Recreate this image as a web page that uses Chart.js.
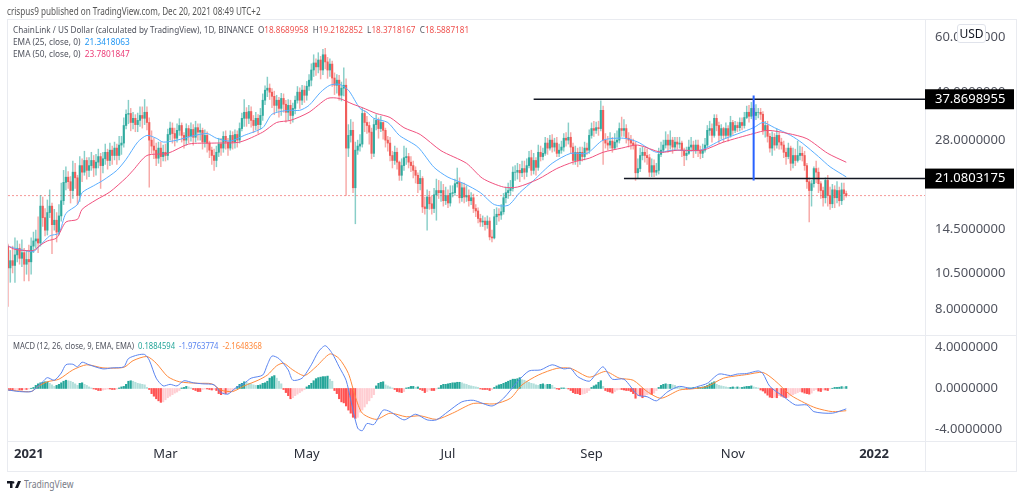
<!DOCTYPE html>
<html>
<head>
<meta charset="utf-8">
<title>ChainLink / US Dollar</title>
<script src="https://cdn.jsdelivr.net/npm/chart.js@4"></script>
<style>
  html, body { margin: 0; padding: 0; background: #fff; }
  body { width: 1024px; height: 496px; position: relative; overflow: hidden; font-family: "Noto Sans", sans-serif; color: #50535e; }
  canvas { position: absolute; left: 0; }
  #priceChart { top: 0; }
  #macdChart { top: 315px; }
  .txt { position: absolute; white-space: nowrap; font-size: 9.8px; line-height: 12px; transform-origin: left center; transform: scaleX(0.832); }
  .rule { position: absolute; background: #e9ebf0; }
  #usd { position: absolute; left: 957px; top: 24px; width: 27px; height: 17px; border: 1px solid #e0e3eb; border-radius: 3px; background: #fff; font-size: 12px; line-height: 17px; text-align: center; color: #131722; }
</style>
</head>
<body>
<div class="rule" style="left:7px;top:19px;width:1010px;height:1px"></div>
<div class="rule" style="left:7px;top:19px;width:1px;height:452px"></div>
<div class="rule" style="left:1016px;top:19px;width:1px;height:452px"></div>
<div class="rule" style="left:7px;top:471px;width:1010px;height:1px"></div>
<div class="rule" style="left:7px;top:335px;width:1010px;height:1px"></div>
<div class="rule" style="left:7px;top:441px;width:1010px;height:1px"></div>
<div class="rule" style="left:925px;top:19px;width:1px;height:452px"></div>
<canvas id="priceChart" width="1024" height="355"></canvas>
<canvas id="macdChart" width="1024" height="156"></canvas>
<div class="txt" style="left:7px;top:5px;font-size:10px;color:#555;transform:scaleX(0.813)">crispus9 published on TradingView.com, Dec 20, 2021 08:49 UTC+2</div>
<div class="txt" style="left:13px;top:24px">ChainLink / US Dollar (calculated by TradingView), 1D, BINANCE&nbsp;&nbsp;O<span style="color:#ef5350">18.8689958</span>&nbsp;&nbsp;H<span style="color:#ef5350">19.2182852</span>&nbsp;&nbsp;L<span style="color:#ef5350">18.3718167</span>&nbsp;&nbsp;C<span style="color:#ef5350">18.5887181</span></div>
<div class="txt" style="left:13px;top:36px;transform:scaleX(0.847)">EMA (25, close, 0)&nbsp;&nbsp;<span style="color:#2196f3">21.3418063</span></div>
<div class="txt" style="left:13px;top:48px;transform:scaleX(0.847)">EMA (50, close, 0)&nbsp;&nbsp;<span style="color:#ec407a">23.7801847</span></div>
<div class="txt" style="left:13px;top:340px;transform:scaleX(0.78)">MACD (12, 26, close, 9, EMA, EMA)&nbsp;&nbsp;<span style="color:#26a69a">0.1884594</span>&nbsp;&nbsp;<span style="color:#5b85f0">-1.9763774</span>&nbsp;&nbsp;<span style="color:#ff8a3d">-2.1648368</span></div>
<div id="usd">USD</div>
<svg style="position:absolute;left:7px;top:481px" width="14" height="7" viewBox="0 0 14 7"><path fill="#131722" d="M0 0h5.5v7H3V2.4H0zM6.2 0.2a1.2 1.2 0 1 1 0 2.4a1.2 1.2 0 0 1 0-2.4zM11 0h3l-3 7H8z"/></svg>
<div class="txt" style="left:24px;top:478px;font-size:11px;color:#787b86;transform:scaleX(0.78)">TradingView</div>
<script>
// Daily candles (USD), first candle 2020-12-23
const opens = [
  12.8,10.9,11.5,11.1,12.0,12.6,11.7,12.2,11.2,11.6,
  11.4,12.8,13.3,13.5,13.1,17.2,15.8,14.4,16.4,17.2,
  15.0,15.5,14.2,16.0,17.9,20.5,21.3,20.6,19.3,22.1,
  21.2,18.6,23.2,22.1,24.1,22.4,23.2,24.1,22.8,23.8,
  24.8,23.2,24.4,25.6,24.1,26.0,25.0,26.4,25.0,27.0,
  27.4,31.2,33.9,34.1,31.9,32.9,31.4,32.4,33.6,32.9,
  34.4,31.9,28.0,26.8,26.0,24.5,26.4,24.8,25.6,25.0,
  29.2,30.6,29.4,28.4,30.1,31.2,29.0,28.0,30.5,28.8,
  30.3,28.6,30.7,29.7,30.1,27.6,29.0,27.4,26.0,25.0,
  24.1,25.6,27.2,26.4,28.8,27.6,26.4,29.0,27.6,29.2,
  28.0,30.5,32.9,34.4,32.9,34.6,32.4,31.2,32.9,31.4,
  33.6,37.6,40.5,41.1,39.9,38.7,36.2,37.6,35.4,38.1,
  36.5,34.4,36.2,33.6,35.4,37.6,39.9,37.6,40.5,39.0,
  41.7,43.6,47.0,49.5,48.1,50.6,47.0,52.6,49.9,47.0,
  49.1,44.3,42.0,43.6,39.0,41.1,42.0,26.4,29.0,30.1,
  19.7,26.0,26.8,27.2,34.1,31.9,31.2,29.7,25.4,31.4,
  32.4,30.5,31.9,30.1,28.0,27.4,25.0,24.1,25.6,23.8,
  21.6,23.2,24.6,24.8,23.8,23.2,22.4,21.6,20.3,21.1,
  17.1,16.9,18.4,17.5,16.9,18.7,19.3,19.0,19.3,17.9,
  18.6,17.6,18.9,19.0,20.3,20.5,18.3,19.7,18.4,18.6,
  17.9,18.3,16.9,16.6,15.7,15.3,15.4,15.0,15.4,13.7,
  13.6,15.9,16.2,16.1,16.5,18.3,19.0,19.3,19.6,22.1,
  22.1,22.4,22.0,22.7,22.1,23.2,24.6,22.4,24.1,22.9,
  25.6,24.8,25.4,27.4,26.4,28.0,26.6,27.4,25.4,26.0,
  26.6,28.4,28.0,28.6,26.6,24.1,25.6,24.1,25.6,24.8,
  26.4,26.0,29.0,30.5,30.1,30.7,30.5,34.9,28.0,27.4,
  27.0,27.8,26.4,27.6,28.0,30.5,30.1,30.5,28.4,28.0,
  27.4,27.0,22.0,22.7,25.0,25.6,25.0,24.6,22.1,23.2,
  22.1,22.4,25.2,26.0,27.0,28.0,27.0,28.0,26.6,27.6,
  27.2,27.4,26.0,25.0,25.4,26.6,27.0,26.0,27.0,26.0,
  25.4,26.0,27.0,30.1,30.5,29.0,32.9,31.2,29.0,30.5,
  29.0,30.5,29.0,31.9,30.1,31.2,30.7,31.9,31.2,33.1,
  34.4,33.4,35.4,33.6,34.4,34.4,33.9,30.1,31.2,28.8,
  26.4,28.6,27.0,29.0,27.6,27.0,25.6,24.8,26.4,23.6,
  25.0,24.1,25.0,25.4,25.0,23.2,20.6,19.3,20.3,22.7,
  22.1,20.3,19.3,18.3,20.8,18.6,17.5,19.4,18.3,19.3,
  17.9,19.4,18.87
];
const closes = [
  10.9,11.5,11.1,12.0,12.6,11.7,12.2,11.2,11.6,11.4,
  12.8,13.3,13.5,13.1,17.2,15.8,14.4,16.4,17.2,15.0,
  15.5,14.2,16.0,17.9,20.5,21.3,20.6,19.3,22.1,21.2,
  18.6,23.2,22.1,24.1,22.4,23.2,24.1,22.8,23.8,24.8,
  23.2,24.4,25.6,24.1,26.0,25.0,26.4,25.0,27.0,27.4,
  31.2,33.9,34.1,31.9,32.9,31.4,32.4,33.6,32.9,34.4,
  31.9,28.0,26.8,26.0,24.5,26.4,24.8,25.6,25.0,29.2,
  30.6,29.4,28.4,30.1,31.2,29.0,28.0,30.5,28.8,30.3,
  28.6,30.7,29.7,30.1,27.6,29.0,27.4,26.0,25.0,24.1,
  25.6,27.2,26.4,28.8,27.6,26.4,29.0,27.6,29.2,28.0,
  30.5,32.9,34.4,32.9,34.6,32.4,31.2,32.9,31.4,33.6,
  37.6,40.5,41.1,39.9,38.7,36.2,37.6,35.4,38.1,36.5,
  34.4,36.2,33.6,35.4,37.6,39.9,37.6,40.5,39.0,41.7,
  43.6,47.0,49.5,48.1,50.6,47.0,52.6,49.9,47.0,49.1,
  44.3,42.0,43.6,39.0,41.1,42.0,26.4,29.0,30.1,19.7,
  26.0,26.8,27.2,34.1,31.9,31.2,29.7,25.4,31.4,32.4,
  30.5,31.9,30.1,28.0,27.4,25.0,24.1,25.6,23.8,21.6,
  23.2,24.6,24.8,23.8,23.2,22.4,21.6,20.3,21.1,17.1,
  16.9,18.4,17.5,16.9,18.7,19.3,19.0,19.3,17.9,18.6,
  17.6,18.9,19.0,20.3,20.5,18.3,19.7,18.4,18.6,17.9,
  18.3,16.9,16.6,15.7,15.3,15.4,15.0,15.4,13.7,13.6,
  15.9,16.2,16.1,16.5,18.3,19.0,19.3,19.6,22.1,22.1,
  22.4,22.0,22.7,22.1,23.2,24.6,22.4,24.1,22.9,25.6,
  24.8,25.4,27.4,26.4,28.0,26.6,27.4,25.4,26.0,26.6,
  28.4,28.0,28.6,26.6,24.1,25.6,24.1,25.6,24.8,26.4,
  26.0,29.0,30.5,30.1,30.7,30.5,34.9,28.0,27.4,27.0,
  27.8,26.4,27.6,28.0,30.5,30.1,30.5,28.4,28.0,27.4,
  27.0,22.0,22.7,25.0,25.6,25.0,24.6,22.1,23.2,22.1,
  22.4,25.2,26.0,27.0,28.0,27.0,28.0,26.6,27.6,27.2,
  27.4,26.0,25.0,25.4,26.6,27.0,26.0,27.0,26.0,25.4,
  26.0,27.0,30.1,30.5,29.0,32.9,31.2,29.0,30.5,29.0,
  30.5,29.0,31.9,30.1,31.2,30.7,31.9,31.2,33.1,34.4,
  33.4,35.4,33.6,34.4,34.4,33.9,30.1,31.2,28.8,26.4,
  28.6,27.0,29.0,27.6,27.0,25.6,24.8,26.4,23.6,25.0,
  24.1,25.0,25.4,25.0,23.2,20.6,19.3,20.3,22.7,22.1,
  20.3,19.3,18.3,20.8,18.6,17.5,19.4,18.3,19.3,17.9,
  19.4,18.87,18.59
];
const highs = [
  13.0,12.4,12.8,13.6,13.3,13.0,13.4,12.6,12.4,12.9,
  13.6,14.2,14.4,15.9,18.6,18.4,16.9,18.0,19.4,17.6,
  16.8,16.4,17.4,20.4,22.4,23.0,22.2,21.4,24.0,23.6,
  21.6,24.8,24.4,25.8,24.6,24.6,25.6,25.0,25.2,26.2,
  25.4,25.6,27.2,26.2,27.4,26.8,27.6,27.2,28.8,28.8,
  33.0,35.0,37.6,35.4,34.4,33.8,34.2,35.8,35.8,37.8,
  35.8,33.0,30.0,28.4,27.4,27.6,27.6,27.0,27.2,30.4,
  32.0,31.8,30.6,31.6,32.8,31.8,29.6,31.6,31.2,31.8,
  31.4,32.2,31.6,31.6,30.6,30.2,29.8,27.8,26.6,26.2,
  26.8,28.4,28.4,29.8,30.0,28.4,30.0,29.8,30.2,30.0,
  31.8,34.2,37.8,35.6,36.2,35.8,33.6,34.4,33.8,35.4,
  39.4,41.8,44.6,42.4,41.0,40.2,39.0,38.4,39.6,39.4,
  37.6,37.8,37.6,36.8,38.8,41.6,41.2,42.0,41.8,43.2,
  45.4,49.2,52.6,51.0,53.4,52.0,54.8,55.2,51.6,51.0,
  50.2,46.0,45.4,45.2,43.0,47.8,44.0,31.4,32.6,32.0,
  27.6,28.0,29.2,35.6,34.8,33.4,32.0,30.6,32.8,33.8,
  33.0,33.4,32.0,30.6,28.8,28.6,25.8,26.8,26.4,24.0,
  24.4,26.8,26.4,25.4,24.8,24.0,23.0,22.0,22.4,21.4,
  18.4,19.4,19.2,18.6,19.6,21.0,20.8,20.6,20.2,19.8,
  19.4,20.0,20.0,21.0,22.8,21.2,20.4,20.4,20.0,19.4,
  19.0,18.8,17.4,17.0,16.2,16.0,15.8,16.0,15.8,14.4,
  16.8,17.0,16.9,17.4,18.9,19.8,20.4,20.8,23.0,23.2,
  23.6,23.4,24.0,24.0,24.4,25.8,26.0,25.4,24.6,27.0,
  26.8,26.4,28.6,28.4,29.0,29.2,28.4,28.6,27.2,27.8,
  29.4,29.6,31.8,29.6,27.4,26.8,26.4,26.6,26.6,27.6,
  27.4,30.2,31.8,32.2,32.0,32.2,37.4,36.0,29.4,28.8,
  29.6,28.6,29.4,30.0,31.8,33.2,32.6,31.4,29.6,29.0,
  28.2,27.6,24.4,26.4,26.6,26.4,26.2,25.2,24.4,24.2,
  23.6,26.4,27.6,28.0,29.8,29.2,30.0,28.6,28.6,28.6,
  28.6,27.8,26.4,26.6,28.0,28.6,27.8,28.0,28.0,26.8,
  27.2,28.4,31.2,32.2,31.6,33.8,33.8,32.0,31.4,30.8,
  31.8,31.2,33.4,32.4,32.2,32.0,33.0,33.0,34.4,36.0,
  36.2,37.0,36.2,36.4,35.4,35.4,34.6,32.2,32.2,29.4,
  29.8,29.4,30.4,29.6,28.4,27.8,26.4,27.4,26.8,26.4,
  26.2,27.8,26.8,26.6,25.8,23.6,21.2,20.8,23.0,24.0,
  22.8,20.6,19.8,21.2,21.6,19.8,20.2,20.0,20.6,19.8,
  20.4,20.4,19.22
];
const lows = [
  8.2,9.8,10.5,9.8,11.4,11.2,11.0,9.9,10.4,9.9,
  10.4,12.2,12.6,12.2,12.8,14.8,13.8,13.9,15.8,12.1,
  14.4,13.2,13.9,15.4,17.4,19.4,19.6,17.6,18.2,19.6,
  17.4,17.8,20.6,21.6,21.0,21.4,22.4,21.4,21.6,22.8,
  19.6,22.0,23.4,22.6,23.2,23.4,24.2,23.4,24.2,25.2,
  26.6,30.4,31.6,30.0,30.4,29.8,29.8,31.0,30.6,31.4,
  30.2,19.8,25.4,24.4,23.2,23.6,23.0,24.0,24.0,24.2,
  28.0,27.4,26.8,27.6,29.0,27.6,26.4,27.0,27.4,27.8,
  27.0,27.6,28.0,28.0,26.2,26.6,25.6,24.6,23.4,22.4,
  23.0,24.8,25.0,25.6,26.2,25.0,26.0,26.2,26.4,26.6,
  27.4,30.0,31.0,31.0,31.6,30.8,29.6,30.2,29.4,30.4,
  32.4,36.4,38.6,37.8,35.6,33.8,34.6,33.2,33.6,34.4,
  32.0,32.4,31.6,32.0,34.0,36.8,35.4,36.4,37.0,37.6,
  40.4,41.8,44.8,45.2,46.0,44.0,45.4,47.4,44.2,44.8,
  41.6,39.2,39.6,37.6,37.4,38.8,18.6,24.8,27.6,19.0,
  15.1,25.2,25.8,26.6,29.8,29.4,27.2,24.4,24.8,30.2,
  28.4,29.8,28.2,26.6,25.8,24.0,22.8,23.4,22.6,20.8,
  20.8,22.4,23.4,22.8,22.2,21.2,20.4,19.0,19.4,16.4,
  16.2,14.4,16.8,16.2,16.4,15.5,18.2,17.8,17.2,17.4,
  17.0,17.2,18.4,18.6,19.8,17.6,17.8,17.6,17.8,17.2,
  17.4,16.4,15.9,15.2,14.8,14.8,14.4,14.6,13.4,13.2,
  13.5,15.0,15.4,15.6,16.2,17.6,18.2,18.6,19.2,20.8,
  21.0,20.6,21.4,21.0,21.4,22.8,21.6,21.8,21.6,22.4,
  24.0,24.2,25.0,25.2,26.0,25.6,25.8,24.8,24.8,25.4,
  25.8,26.8,27.2,25.4,23.4,23.4,23.0,23.4,24.0,24.2,
  25.2,25.4,28.4,28.8,29.4,29.0,30.0,23.4,26.4,26.0,
  26.4,25.6,26.2,26.6,27.4,28.8,28.8,27.4,26.6,26.2,
  26.2,20.8,21.2,22.2,24.2,23.8,23.4,21.4,21.4,21.4,
  21.6,21.8,24.8,25.6,26.4,25.6,26.2,25.4,26.0,26.2,
  26.4,24.8,23.2,24.2,25.2,25.8,24.6,25.4,24.8,24.4,
  24.6,25.6,26.6,29.0,27.6,28.6,30.0,27.4,28.2,27.6,
  28.4,27.8,28.6,29.2,29.6,29.8,30.0,30.2,30.6,32.8,
  32.0,32.8,32.4,32.6,33.0,32.6,29.2,28.6,27.6,25.6,
  25.0,26.0,26.4,26.2,26.2,24.6,23.4,24.4,22.4,22.8,
  23.2,23.8,24.2,24.0,22.4,19.6,15.3,17.2,19.8,20.4,
  19.0,18.2,17.2,17.6,17.2,16.8,17.0,17.0,17.6,17.2,
  17.4,18.0,18.37
];

// EMA lines, read at these day numbers
const ema25Days = [0,3,7,11,14,18,22,25,30,32,37,41,47,51,56,60,64,67,73,79,86,90,96,102,110,114,121,126,130,135,139,143,147,152,155,158,164,169,177,184,190,197,204,210,216,221,227,235,243,250,257,266,272,280,287,299,308,322,326,331,338,343,350,355,362];
const ema25 = [12.8,12.6,12.4,12.3,12.9,13.8,14.1,16.3,17.4,19.0,20.0,20.8,22.4,24.3,27.6,29.0,28.4,27.6,28.0,28.8,29.4,28.4,27.8,29.0,30.7,33.9,34.9,34.9,36.2,39.9,42.0,42.3,40.5,35.4,34.4,32.9,31.9,29.0,26.6,22.9,21.3,20.3,19.0,17.4,17.3,19.0,20.8,23.6,25.4,25.4,28.0,28.4,27.6,25.6,26.0,26.0,28.0,30.7,31.9,30.7,29.0,27.4,24.8,23.0,21.34];
const ema50Days = [0,3,7,11,14,17,21,25,30,32,38,44,51,54,60,69,78,89,100,110,116,122,130,138,143,149,153,159,165,171,178,187,198,205,214,220,229,237,244,251,257,265,272,282,289,300,309,322,328,337,345,354,362];
const ema50 = [12.8,12.5,12.4,12.4,12.9,13.3,13.6,15.3,15.6,16.8,18.0,19.1,21.2,22.4,25.0,25.4,27.2,27.4,27.6,29.7,31.9,32.4,34.4,38.1,38.1,36.5,35.6,34.1,33.1,30.7,29.2,25.9,23.6,21.1,19.8,19.8,21.0,22.7,23.8,24.5,25.6,26.4,27.0,25.6,26.0,26.0,27.6,29.4,30.1,29.4,28.3,25.4,23.78];

// MACD pane
const macdDays = [0,5,10,13,15,17,20,23,25,28,30,32,35,41,45,50,52,56,59,61,64,67,70,73,76,80,84,89,92,95,98,102,105,110,112,114,117,121,123,127,131,134,137,140,143,146,148,151,153,155,158,162,165,171,176,181,185,190,196,201,209,214,220,225,230,235,240,243,246,251,254,257,261,266,272,276,280,285,290,295,298,302,307,312,315,319,324,326,329,335,340,345,348,356,362];
const macdLine = [-0.15,-0.3,-0.3,0.2,0.65,1.05,0.8,1.5,2.3,2.35,2.1,2.55,2.3,1.9,2.0,2.1,2.9,3.25,3.3,2.75,1.0,0.25,0.4,0.25,0.75,0.55,0.45,0.35,-0.4,-0.55,0,0.5,1.0,1.3,2.3,3.15,2.9,1.8,0.8,1.0,2.3,3.55,4.15,3.4,2.1,0.8,-1.1,-3.85,-4.1,-3.4,-3.5,-2.1,-2.25,-3.05,-2.5,-3.05,-3.05,-2.25,-1.3,-1.15,-1.7,-0.95,0.65,1.7,1.8,2.3,1.9,1.95,1.15,0.7,1.45,2.1,0.9,0.9,-0.65,-0.8,-1.2,-0.3,0.2,0,0.2,0.5,1.4,1.25,1.4,1.45,1.7,1.45,0.2,-0.8,-1.6,-1.6,-2.25,-2.4,-1.98];
const signalDays = [0,10,13,17,22,28,34,41,50,54,60,64,69,74,82,88,92,97,102,108,112,116,119,123,128,133,139,143,147,150,153,159,165,172,178,185,192,201,210,217,222,229,237,243,251,258,264,270,276,282,290,295,302,309,319,326,331,338,344,349,356,362];
const signalLine = [-0.15,-0.3,0.2,0.65,0.9,1.8,2.3,2.0,2.05,2.7,3.1,2.45,1.15,0.65,0.5,0.45,-0.15,-0.3,0.25,0.8,1.3,2.2,2.45,1.8,1.25,2.1,3.35,2.9,1.45,-0.8,-2.4,-3.0,-2.4,-2.75,-2.65,-3.0,-2.4,-1.45,-1.5,-0.95,0.35,1.3,1.95,1.95,1.1,1.65,1.0,0.8,-0.3,-0.95,-0.15,-0.05,0.2,1.0,1.35,1.55,0.8,-0.65,-1.4,-1.9,-2.25,-2.16];
const histogram = [
  -0.1,-0.2,-0.2,-0.15,-0.1,-0.15,-0.15,-0.1,-0.1,-0.05,
  0.02,0.1,0.3,0.45,0.55,0.6,0.65,0.65,0.5,0.35,
  0.2,0.3,0.4,0.55,0.7,0.8,0.75,0.7,0.6,0.45,
  0.3,0.5,0.55,0.4,0.3,0.15,0.05,-0.05,-0.1,-0.2,
  -0.2,-0.15,-0.1,-0.05,-0.05,-0.1,-0.1,-0.05,0.05,0.15,
  0.2,0.4,0.7,0.75,0.7,0.6,0.5,0.45,0.4,0.35,
  0.1,-0.1,-0.5,-0.75,-1.0,-1.2,-1.35,-1.3,-1.1,-0.9,
  -0.75,-0.6,-0.45,-0.35,-0.2,0.05,0.1,0.2,0.15,0.05,
  -0.1,-0.2,-0.3,-0.3,-0.1,-0.05,-0.05,-0.1,-0.15,-0.1,
  -0.2,-0.5,-0.6,-0.45,-0.5,-0.45,-0.4,-0.25,-0.15,0.2,
  0.4,0.5,0.65,0.6,0.5,0.45,0.35,0.3,0.3,0.35,
  0.5,0.55,0.7,1.0,1.15,1.25,1.0,0.7,0.45,-0.1,
  -0.4,-0.7,-1.0,-0.9,-0.7,-0.55,-0.4,-0.25,-0.1,0.15,
  0.3,0.5,0.75,0.95,1.05,1.1,1.15,1.15,1.2,0.9,
  0.7,-0.2,-0.5,-1.0,-1.3,-1.4,-1.7,-2.1,-2.4,-2.8,
  -2.9,-2.8,-2.3,-2.1,-1.8,-1.5,-1.2,-0.9,-0.6,0.25,
  0.5,0.6,0.65,0.35,0.25,0.15,0.05,-0.1,-0.3,-0.35,
  -0.4,-0.3,0.05,0.1,0.2,0.2,0.1,0.15,-0.1,-0.2,
  -0.4,-0.3,-0.15,-0.2,-0.2,-0.05,0.05,0.3,0.4,0.4,
  0.45,0.5,0.55,0.55,0.6,0.6,0.55,0.45,0.4,0.3,
  0.25,0.2,0.15,0.1,-0.05,-0.1,-0.1,-0.1,-0.2,-0.1,
  0.1,0.25,0.35,0.4,0.5,0.6,0.7,0.8,0.9,0.9,
  0.95,1.05,0.85,0.8,0.7,0.6,0.5,0.45,0.35,0.3,
  0.4,0.45,0.35,0.4,0.4,0.3,0.1,-0.05,-0.1,0.05,
  0.05,0.02,-0.05,-0.2,-0.4,-0.5,-0.5,-0.6,-0.55,-0.5,
  -0.4,-0.2,0.1,0.25,0.35,0.6,0.75,0.2,-0.2,-0.3,
  -0.35,-0.45,-0.3,-0.15,-0.1,-0.1,-0.15,-0.2,-0.2,-0.3,
  -0.5,-0.95,-0.7,-0.7,-0.9,-0.7,-0.6,-0.55,-0.6,-0.45,
  -0.2,0.1,0.3,0.4,0.45,0.4,0.4,0.35,0.3,0.15,
  0.1,0.05,0.02,-0.02,0.05,0.05,0.1,0.05,0.1,0.1,
  0.15,0.2,0.3,0.45,0.55,0.65,0.4,0.3,0.25,0.2,
  0.15,0.1,0.1,0.15,0.12,0.15,0.1,0.1,0.15,0.2,
  0.2,0.25,0.15,0.1,0.05,-0.15,-0.25,-0.45,-0.65,-0.85,
  -0.9,-0.85,-0.9,-0.7,-0.75,-0.85,-0.9,-0.85,-0.7,-0.6,
  -0.5,-0.4,-0.3,-0.35,-0.45,-0.5,-0.55,-0.45,-0.2,-0.1,
  -0.25,-0.3,-0.15,-0.15,-0.2,-0.05,0.02,0.1,0.1,0.12,
  0.18,0.15,0.19
];

// Axis tick values and labels
const priceTicks = [60, 40, 28, 14.5, 10.5, 8];
const macdTicks = [4, 0, -4];
const timeTicks = { '2021-01-01': '2021', '2021-03-01': 'Mar', '2021-05-01': 'May', '2021-07-01': 'Jul', '2021-09-01': 'Sep', '2021-11-01': 'Nov', '2022-01-01': '2022' };
const yearTicks = ['2021', '2022'];

// Drawn levels
const lastClose = 18.59;
const upperLevel = 37.8698955;
const lowerLevel = 21.0803175;
const upperLevelStart = 227;
const lowerLevelStart = 266;
const measureDay = 322;
const measureTop = 38.9;
const measureBottom = 20.8;
const lastSlot = 396;

const UP = '#26a69a', DOWN = '#ef5350';
const AXIS_FONT = '"Noto Sans", sans-serif';

document.addEventListener('DOMContentLoaded', function() {
    const dayLabels = buildDayLabels();
    drawPriceChart(dayLabels);
    drawMacdChart(dayLabels);
});

function buildDayLabels() {
    const labels = [];
    for (let i = 0; i <= lastSlot; i++) {
        labels.push(new Date(Date.UTC(2020, 11, 23 + i)).toISOString().slice(0, 10));
    }
    return labels;
}

function toPoints(dayLabels, days, values) {
    return days.map((d, i) => ({ x: dayLabels[d], y: values[i] }));
}

function lineSet(data, color, width, order) {
    return { type: 'line', data: data, borderColor: color, borderWidth: width, pointRadius: 0, tension: 0.25, order: order };
}

function drawPriceChart(dayLabels) {
    const candleColors = closes.map((c, i) => c >= opens[i] ? 'rgba(38,166,154,0.9)' : 'rgba(239,83,80,0.9)');
    const wickColors = closes.map((c, i) => c >= opens[i] ? 'rgba(38,166,154,0.55)' : 'rgba(239,83,80,0.5)');

    // black price tags on the axis
    const priceTags = {
        id: 'priceTags',
        afterDraw(chart) {
            const ctx = chart.ctx;
            const scale = chart.scales.y;
            [upperLevel, lowerLevel].forEach(level => {
                const y = scale.getPixelForValue(level);
                ctx.save();
                ctx.fillStyle = '#000';
                ctx.fillRect(925, y - 10, 89, 20);
                ctx.fillStyle = '#fff';
                ctx.font = '13px ' + AXIS_FONT;
                ctx.textBaseline = 'middle';
                ctx.fillText(level.toFixed(7), 935, y);
                ctx.restore();
            });
        }
    };

    new Chart(document.getElementById('priceChart'), {
        data: {
            labels: dayLabels,
            datasets: [
                { type: 'bar', data: closes.map((c, i) => [opens[i], c]), backgroundColor: candleColors, barThickness: 1.5, grouped: false, order: 4 },
                { type: 'bar', data: highs.map((h, i) => [lows[i], h]), backgroundColor: wickColors, barThickness: 0.8, grouped: false, order: 5 },
                lineSet(toPoints(dayLabels, ema25Days, ema25), '#5aaeff', 1, 3),
                lineSet(toPoints(dayLabels, ema50Days, ema50), '#f0527f', 1, 2),
                { type: 'line', data: [{ x: dayLabels[0], y: lastClose }, { x: dayLabels[lastSlot], y: lastClose }], borderColor: 'rgba(239,83,80,0.6)', borderWidth: 1, borderDash: [2, 2], pointRadius: 0, order: 6 },
                { type: 'line', data: [{ x: dayLabels[upperLevelStart], y: upperLevel }, { x: dayLabels[lastSlot], y: upperLevel }], borderColor: '#131722', borderWidth: 1.5, pointRadius: 0, order: 1 },
                { type: 'line', data: [{ x: dayLabels[lowerLevelStart], y: lowerLevel }, { x: dayLabels[lastSlot], y: lowerLevel }], borderColor: '#131722', borderWidth: 1.5, pointRadius: 0, order: 1 },
                { type: 'line', data: [{ x: dayLabels[measureDay], y: measureTop }, { x: dayLabels[measureDay], y: measureBottom }], borderColor: '#2962ff', borderWidth: 2, pointRadius: 0, order: 0 }
            ]
        },
        options: {
            responsive: false,
            animation: false,
            layout: { padding: { left: 8, top: 19, right: 8, bottom: 21 } },
            plugins: { legend: { display: false }, tooltip: { enabled: false } },
            scales: {
                x: { type: 'category', display: false, offset: false },
                y: {
                    type: 'logarithmic',
                    position: 'right',
                    min: 6.69,
                    max: 68.5,
                    grid: { display: false, drawTicks: false },
                    border: { display: false },
                    afterFit: scale => { scale.width = 91; },
                    afterBuildTicks: scale => { scale.ticks = priceTicks.map(v => ({ value: v })); },
                    ticks: { autoSkip: false, padding: 10, color: '#50535e', font: { family: AXIS_FONT, size: 13 }, callback: v => Number(v).toFixed(7) }
                }
            }
        },
        plugins: [priceTags]
    });
}

function drawMacdChart(dayLabels) {
    // darker when the bar grows away from zero, paler when it shrinks
    const barColors = histogram.map((h, i) => {
        const prev = i > 0 ? histogram[i - 1] : 0;
        if (h >= 0) return h >= prev ? UP : '#b2dfdb';
        return h <= prev ? '#ff5252' : '#ffcdd2';
    });

    new Chart(document.getElementById('macdChart'), {
        data: {
            labels: dayLabels,
            datasets: [
                { type: 'bar', data: histogram, backgroundColor: barColors, barThickness: 1.5, order: 3 },
                lineSet(toPoints(dayLabels, macdDays, macdLine), '#5b85f0', 1, 1),
                lineSet(toPoints(dayLabels, signalDays, signalLine), '#ff8a3d', 1, 2)
            ]
        },
        options: {
            responsive: false,
            animation: false,
            layout: { padding: { left: 8, top: 20, right: 8, bottom: 0 } },
            plugins: { legend: { display: false }, tooltip: { enabled: false } },
            scales: {
                x: {
                    type: 'category',
                    offset: false,
                    grid: { display: false, drawTicks: false },
                    border: { display: false },
                    afterFit: scale => { scale.height = 30; },
                    afterBuildTicks: scale => {
                        scale.ticks = scale.ticks.filter(t => timeTicks[dayLabels[t.value]]);
                    },
                    ticks: {
                        autoSkip: false,
                        maxRotation: 0,
                        padding: 5,
                        color: '#2a2e39',
                        callback: function(value) { return timeTicks[dayLabels[value]] || ''; },
                        font: c => ({ family: AXIS_FONT, size: 13, weight: c.tick && yearTicks.includes(c.tick.label) ? 'bold' : 'normal' })
                    }
                },
                y: {
                    position: 'right',
                    min: -5.1,
                    max: 5.19,
                    grid: { display: false, drawTicks: false },
                    border: { display: false },
                    afterFit: scale => { scale.width = 91; },
                    afterBuildTicks: scale => { scale.ticks = macdTicks.map(v => ({ value: v })); },
                    ticks: { autoSkip: false, padding: 10, color: '#50535e', font: { family: AXIS_FONT, size: 13 }, callback: v => Number(v).toFixed(7) }
                }
            }
        }
    });
}
</script>
</body>
</html>
